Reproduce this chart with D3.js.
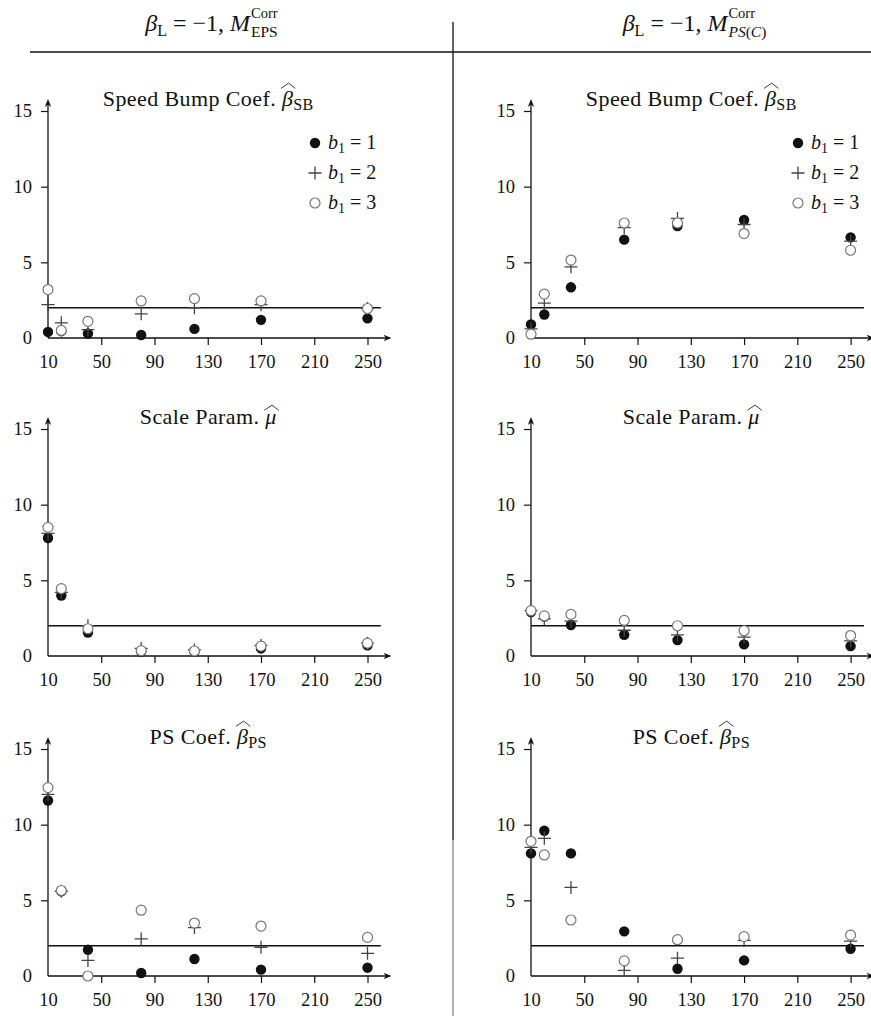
<!DOCTYPE html>
<html>
<head>
<meta charset="utf-8">
<script src="https://d3js.org/d3.v7.min.js"></script>
<style>
  body { margin: 0; background: #fff; }
  text { font-family: "Liberation Serif", "Times New Roman", serif; fill: #111; }
</style>
</head>
<body>
<svg id="chart" width="871" height="1016"></svg>
<script>
// sample sizes on the x axis and the tick labels
var sampleSizes = [10, 20, 40, 80, 120, 170, 250];
var xTicks = [10, 50, 90, 130, 170, 210, 250];
var yTicks = [0, 5, 10, 15];
var trueValue = 2;
var seriesNames = ["b1 = 1", "b1 = 2", "b1 = 3"];

// Speed bump coefficient, EPS model
var sbEps1 = [0.4, 0.45, 0.3, 0.2, 0.6, 1.2, 1.3];
var sbEps2 = [2.2, 1.0, 0.55, 1.6, 2.0, 2.2, 1.95];
var sbEps3 = [3.2, 0.5, 1.1, 2.45, 2.6, 2.45, 1.95];
// Speed bump coefficient, PS(C) model
var sbPs1 = [0.9, 1.55, 3.35, 6.5, 7.4, 7.8, 6.65];
var sbPs2 = [0.6, 2.3, 4.7, 7.3, 7.9, 7.5, 6.4];
var sbPs3 = [0.25, 2.9, 5.15, 7.6, 7.6, 6.9, 5.8];
// Scale parameter, EPS model
var muEps1 = [7.8, 4.0, 1.55, 0.3, 0.3, 0.5, 0.7];
var muEps2 = [8.1, 4.2, 2.0, 0.5, 0.4, 0.7, 0.85];
var muEps3 = [8.5, 4.45, 1.8, 0.35, 0.33, 0.65, 0.85];
// Scale parameter, PS(C) model
var muPs1 = [2.9, 2.6, 2.05, 1.4, 1.05, 0.77, 0.65];
var muPs2 = [3.0, 2.45, 2.3, 1.7, 1.4, 1.25, 1.0];
var muPs3 = [3.0, 2.65, 2.75, 2.35, 2.0, 1.67, 1.35];
// PS coefficient, EPS model
var psEps1 = [11.6, 5.6, 1.73, 0.2, 1.12, 0.42, 0.55];
var psEps2 = [12.0, 5.6, 1.03, 2.45, 3.2, 1.9, 1.5];
var psEps3 = [12.45, 5.65, 0.0, 4.35, 3.5, 3.3, 2.55];
// PS coefficient, PS(C) model
var psPs1 = [8.1, 9.6, 8.1, 2.95, 0.48, 1.03, 1.8];
var psPs2 = [8.5, 9.1, 5.85, 0.37, 1.18, 2.35, 2.3];
var psPs3 = [8.9, 8.0, 3.7, 1.0, 2.4, 2.6, 2.7];

var svg = d3.select("#chart");

// layout of the 2 x 3 grid
var colX = [[48, 367.5], [531, 850.6]];
var rowY0 = [338, 656, 976];
var plotH = 227;

var panels = [
  {col: 0, row: 0, title: "Speed Bump Coef. ", sym: "β", sub: "SB", legend: true, data: [sbEps1, sbEps2, sbEps3]},
  {col: 1, row: 0, title: "Speed Bump Coef. ", sym: "β", sub: "SB", legend: true, data: [sbPs1, sbPs2, sbPs3]},
  {col: 0, row: 1, title: "Scale Param. ", sym: "μ", sub: "", legend: false, data: [muEps1, muEps2, muEps3]},
  {col: 1, row: 1, title: "Scale Param. ", sym: "μ", sub: "", legend: false, data: [muPs1, muPs2, muPs3]},
  {col: 0, row: 2, title: "PS Coef. ", sym: "β", sub: "PS", legend: false, data: [psEps1, psEps2, psEps3]},
  {col: 1, row: 2, title: "PS Coef. ", sym: "β", sub: "PS", legend: false, data: [psPs1, psPs2, psPs3]}
];

// header + separators
svg.append("line").attr("x1", 30).attr("x2", 871).attr("y1", 52).attr("y2", 52)
  .attr("stroke", "#111").attr("stroke-width", 1.3);
svg.append("line").attr("x1", 453).attr("x2", 453).attr("y1", 22).attr("y2", 840)
  .attr("stroke", "#111").attr("stroke-width", 1.3);
svg.append("line").attr("x1", 453).attr("x2", 453).attr("y1", 840).attr("y2", 1016)
  .attr("stroke", "#888").attr("stroke-width", 1.3);

function header(cx, subParts) {
  var g = svg.append("g");
  var fs = 24;
  var t = g.append("text").attr("x", 0).attr("y", 31).style("font-size", fs + "px");
  t.append("tspan").style("font-style", "italic").text("β");
  t.append("tspan").attr("dy", 5).style("font-size", "16px").text("L");
  t.append("tspan").attr("dy", -5).text("\u00a0=\u00a0−1, ");
  t.append("tspan").style("font-style", "italic").text("M");
  var end = t.node().getComputedTextLength() + 1;
  g.append("text").attr("x", end).attr("y", 18).style("font-size", "14.5px").text("Corr");
  var s = g.append("text").attr("x", end).attr("y", 37).style("font-size", "15.5px");
  subParts.forEach(function(p) {
    s.append("tspan").style("font-style", p[1] ? "italic" : "normal").text(p[0]);
  });
  var bb = g.node().getBBox();
  g.attr("transform", "translate(" + (cx - bb.x - bb.width / 2) + ",0)");
}
header(211, [["EPS", false]]);
header(694, [["PS", true], ["(", false], ["C", true], [")", false]]);

function arrowHead(g, x, y, angle) {
  g.append("path").attr("d", "M0,0 L-8,-3.2 L-5.5,0 L-8,3.2 Z")
    .attr("fill", "#111")
    .attr("transform", "translate(" + x + "," + y + ") rotate(" + angle + ")");
}

panels.forEach(function(p) {
  var x = d3.scaleLinear().domain([10, 250]).range(colX[p.col]);
  var y = d3.scaleLinear().domain([0, 15]).range([rowY0[p.row], rowY0[p.row] - plotH]);
  var g = svg.append("g");

  // axes
  var xa = g.append("g").attr("transform", "translate(0," + y(0) + ")")
    .call(d3.axisBottom(x).tickValues(xTicks).tickSize(7).tickPadding(10).tickSizeOuter(0));
  var ya = g.append("g").attr("transform", "translate(" + x(10) + ",0)")
    .call(d3.axisLeft(y).tickValues(yTicks).tickSize(7).tickPadding(9).tickSizeOuter(0));
  [xa, ya].forEach(function(a) {
    a.select(".domain").remove();
    a.selectAll("line").attr("stroke", "#111").attr("stroke-width", 1.2);
    a.selectAll("text").style("font-size", "18.5px").style("font-family", "'Liberation Serif', serif").attr("fill", "#222");
  });
  xa.selectAll(".tick").filter(function(d) { return d === 10; }).select("line").remove();
  ya.selectAll(".tick").filter(function(d) { return d === 0; }).select("line").remove();

  var xEnd = x(268), yTop = y(15) - 12;
  g.append("line").attr("x1", x(10)).attr("x2", xEnd - 2).attr("y1", y(0)).attr("y2", y(0))
    .attr("stroke", "#111").attr("stroke-width", 1.3);
  arrowHead(g, xEnd, y(0), 0);
  g.append("line").attr("x1", x(10)).attr("x2", x(10)).attr("y1", y(0)).attr("y2", yTop + 2)
    .attr("stroke", "#111").attr("stroke-width", 1.3);
  arrowHead(g, x(10), yTop, -90);

  // true value reference line
  g.append("line").attr("x1", x(10)).attr("x2", x(260)).attr("y1", y(trueValue)).attr("y2", y(trueValue))
    .attr("stroke", "#111").attr("stroke-width", 1.3);

  // title
  var fs = 22;
  var cx = (colX[p.col][0] + colX[p.col][1]) / 2 + 0.5;
  var ty = y(15) - 5;
  var t = g.append("text").attr("x", cx).attr("y", ty).attr("text-anchor", "middle")
    .style("font-size", fs + "px").style("letter-spacing", "0.4px");
  t.append("tspan").text(p.title);
  t.append("tspan").style("font-style", "italic").text(p.sym);
  if (p.sub) t.append("tspan").attr("dy", 4).style("font-size", "16px").text(p.sub);
  var idx = p.title.length;
  var ext = t.node().getExtentOfChar(idx);
  var hBase = p.sym === "μ" ? 0.62 : 0.8, hPeak = p.sym === "μ" ? 0.86 : 1.04;
  g.append("path")
    .attr("d", "M" + (ext.x - 1) + "," + (ty - hBase * fs) + " L" + (ext.x + ext.width / 2 + 1) + "," + (ty - hPeak * fs) +
      " L" + (ext.x + ext.width + 2) + "," + (ty - hBase * fs))
    .attr("fill", "none").attr("stroke", "#222").attr("stroke-width", 0.9);

  // points: filled, plus, open
  p.data.forEach(function(vals, k) {
    vals.forEach(function(v, i) {
      drawMarker(g, k, x(sampleSizes[i]), y(v));
    });
  });

  if (p.legend) {
    var lx = x(10) + 267;
    [143, 173, 203].forEach(function(ly, k) {
      drawMarker(g, k, lx, ly);
      var lt = g.append("text").attr("x", lx + 13).attr("y", ly + 6).style("font-size", "20px");
      lt.append("tspan").style("font-style", "italic").text("b");
      lt.append("tspan").attr("dy", 4).style("font-size", "14px").text("1");
      lt.append("tspan").attr("dy", -4).text("\u00a0=\u00a0" + seriesNames[k].split("= ")[1]);
    });
  }
});

function drawMarker(sel, k, px, py) {
  if (k === 0) {
    sel.append("circle").attr("cx", px).attr("cy", py).attr("r", 5.2).attr("fill", "#111");
  } else if (k === 1) {
    sel.append("path").attr("d", "M" + (px - 6.5) + "," + py + "H" + (px + 6.5) + "M" + px + "," + (py - 6.5) + "V" + (py + 6.5))
      .attr("stroke", "#444").attr("stroke-width", 1.3).attr("fill", "none");
  } else {
    sel.append("circle").attr("cx", px).attr("cy", py).attr("r", 5).attr("fill", "#fff")
      .attr("stroke", "#777").attr("stroke-width", 1.2);
  }
}
</script>
</body>
</html>
